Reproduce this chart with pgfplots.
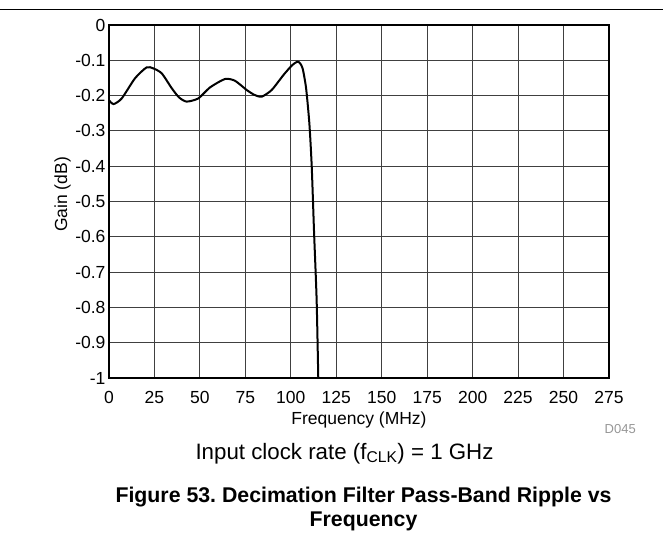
\documentclass[border=0pt]{standalone}
\usepackage{pgfplots}
\pgfplotsset{compat=1.18}
\usepackage{fontspec}
\setmainfont{Liberation Sans}
\definecolor{dcode}{RGB}{150,150,150}
\frenchspacing
\begin{document}
\begin{tikzpicture}[x=1pt,y=1pt]
\useasboundingbox (0,0) rectangle (663,550);
\draw[line width=1.3pt] (0,540.5) -- (663,540.5);
\begin{axis}[
  at={(109pt,172pt)}, anchor=south west,
  width=500pt, height=353pt, scale only axis,
  xmin=0, xmax=275, ymin=-1, ymax=0,
  xtick={0,25,...,275},
  xticklabels={0,25,50,75,100,125,150,175,200,225,250,275},
  ytick={-1,-0.9,-0.8,-0.7,-0.6,-0.5,-0.4,-0.3,-0.2,-0.1,0},
  yticklabels={-1,-0.9,-0.8,-0.7,-0.6,-0.5,-0.4,-0.3,-0.2,-0.1,0},
  major tick length=0pt,
  tick label style={font=\fontsize{17.5}{20}\selectfont},
  xticklabel style={yshift=-10pt},
  grid=major,
  major grid style={black!75, line width=0.9pt},
  axis line style={line width=2.2pt},
  xlabel={Frequency (MHz)},
  ylabel={Gain (dB)},
  label style={font=\fontsize{17.5}{20}\selectfont},
  xlabel style={at={(axis description cs:0.5,-0.132)}, anchor=base},
  ylabel style={at={(axis description cs:-0.084,0.52)}, anchor=base},
]
\addplot[black, line width=2pt, smooth, tension=0.4] coordinates {
(0,-0.213) (2.5,-0.224) (7,-0.208) (14.3,-0.151) (20.7,-0.120) (24.4,-0.123)
(29,-0.137) (34.5,-0.179) (38.5,-0.205) (42.7,-0.217) (49.1,-0.208)
(55.5,-0.177) (63.8,-0.153) (69.3,-0.158) (75.7,-0.184) (80,-0.198)
(84,-0.203) (89.5,-0.184) (95.9,-0.142) (100.5,-0.115) (103.5,-0.104)
(105,-0.108) (106.5,-0.123) (108.4,-0.179) (110.2,-0.279) (111.5,-0.401)
(112.8,-0.590) (114.2,-0.779) (115.1,-1.0) (115.3,-1.05)
};
\end{axis}
\node[anchor=base east, text=dcode, inner sep=0pt, font=\fontsize{13}{15}\selectfont] at (636,117) {D045};
\node[anchor=base, inner sep=0pt, font=\fontsize{22.3}{25}\selectfont] at (344.5,91) {Input clock rate (f\textsubscript{CLK}) = 1 GHz};
\node[anchor=base, inner sep=0pt, font=\bfseries\fontsize{21.3}{24}\selectfont] at (363.5,47.5) {Figure 53. Decimation Filter Pass-Band Ripple vs};
\node[anchor=base, inner sep=0pt, font=\bfseries\fontsize{21.3}{24}\selectfont] at (363.5,24) {Frequency};
\end{tikzpicture}
\end{document}
